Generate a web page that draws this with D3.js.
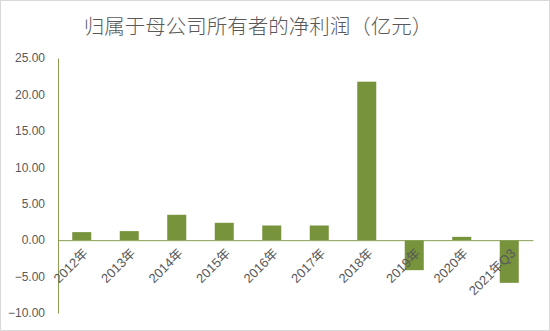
<!DOCTYPE html>
<html>
<head>
<meta charset="utf-8">
<script src="https://cdn.jsdelivr.net/npm/d3@7"></script>
<style>
  body { margin: 0; background: #fff; }
  svg { display: block; }
</style>
</head>
<body>
<svg id="chart" width="550" height="331"></svg>
<script>
// Data
const categories = ['2012年', '2013年', '2014年', '2015年', '2016年', '2017年', '2018年', '2019年', '2020年', '2021年Q3'];
const profits = [1.1, 1.24, 3.48, 2.38, 2.01, 2.01, 21.75, -4.12, 0.45, -5.86];
const yTicks = [25, 20, 15, 10, 5, 0, -5, -10];
const title = '归属于母公司所有者的净利润（亿元）';

const W = 550, H = 331;
const margin = { top: 58, right: 17, bottom: 18, left: 58 };
const svg = d3.select('#chart');
const font = '"Liberation Sans", "Noto Sans CJK SC", sans-serif';

// outer border
svg.append('rect')
    .attr('x', 0.5).attr('y', 0.5)
    .attr('width', W - 1).attr('height', H - 1)
    .attr('fill', '#fff').attr('stroke', '#d9d9d9');

svg.append('text')
    .attr('x', 258).attr('y', 34)
    .attr('text-anchor', 'middle')
    .attr('font-family', '"Noto Sans CJK SC", sans-serif')
    .attr('font-size', 20.5)
    .attr('font-weight', 300)
    .attr('fill', '#595959')
    .text(title);

const x = d3.scaleBand()
    .domain(categories)
    .range([margin.left, W - margin.right])
    .paddingInner(0.6)
    .paddingOuter(0.3);

const y = d3.scaleLinear()
    .domain([-10, 25])
    .range([H - margin.bottom, margin.top]);

// bars
svg.append('g')
    .selectAll('rect')
    .data(profits)
    .enter().append('rect')
    .attr('x', (d, i) => x(categories[i]))
    .attr('width', x.bandwidth())
    .attr('y', d => y(Math.max(0, d)))
    .attr('height', d => Math.abs(y(d) - y(0)))
    .attr('fill', '#77933c');

// y axis
const yAxis = svg.append('g')
    .attr('transform', `translate(${margin.left},0)`)
    .call(d3.axisLeft(y).tickValues(yTicks).tickFormat(d3.format('.2f')).tickSize(0).tickPadding(13));
yAxis.select('.domain').attr('stroke', '#8a9f52');
yAxis.selectAll('text')
    .attr('font-family', font)
    .attr('font-size', 12)
    .attr('fill', '#595959');

// x axis at zero
const xAxis = svg.append('g')
    .attr('transform', `translate(0,${y(0)})`)
    .call(d3.axisBottom(x).tickSize(0).tickSizeOuter(0).tickPadding(0));
xAxis.select('.domain').attr('stroke', '#8a9f52');
xAxis.selectAll('text')
    .attr('font-family', font)
    .attr('font-size', 13)
    .attr('fill', '#595959')
    .attr('text-anchor', 'end')
    .attr('dy', 0)
    .attr('transform', 'translate(7,14) rotate(-45)');
</script>
</body>
</html>
